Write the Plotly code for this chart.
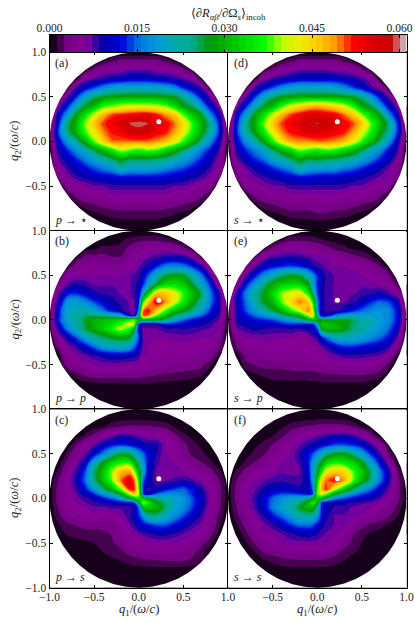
import numpy as np
import plotly.graph_objects as go

# Values in units of 0.001. Each row runs from q2 = 1.0 down to -1.0
# and lists the q1 grid points (step 0.1) centred on q1 = 0; points past the list are zero.
q_axis = [round(-1 + 0.1 * i, 1) for i in range(21)]
q_fine = sorted(q_axis + [-0.05, 0.05])
tick_q = [-1.0, -0.5, 0.0, 0.5, 1.0]
cbar_ticks = [0.0, 0.015, 0.03, 0.045, 0.06]
panel_tags = ["(a)", "(b)", "(c)", "(d)", "(e)", "(f)"]
panel_modes = ["<i>p</i> → ⋆", "<i>p</i> → <i>p</i>", "<i>p</i> → <i>s</i>",
               "<i>s</i> → ⋆", "<i>s</i> → <i>p</i>", "<i>s</i> → <i>s</i>"]
dot_q1 = [0.225]
dot_q2 = [0.22]

panel_a = [
 [0],
 [1,2,3,3,3,3,3,2,1],
 [1,3,5,6,6,7,7,7,6,6,5,3,1],
 [1,6,7.5,8.5,9.5,10,11,11,11,10,9.5,8.5,7.5,6,1],
 [1,8,11,14,17,19,20,20,20,20,20,19,17,13,10,8,1],
 [7,13,20,25,27,28,28.5,29,29,29,29,28,27,24,18,12,7],
 [6,12,20,27,30,36,38,40,41,41,41,40,38,33,28,25,18,11,6],
 [0,10,18,28,34,41,47,51,52,53,54,54,52,49,46,38,32,28,17,10,0],
 [0,12,25,30,39,46,51,53,57,59,60,59,55,53,50,44,37,30,24,12,0],
 [1,14,24,30,37,43,49,52,53,56,57,56,53,52,48,42,36,29,22,13,1],
 [1,11,18,23,30,38,45,50,50,50,50,50,49,47,43,37,31,24,17,10,1],
 [0,9,13,17,21,26,30,35,40,38,36,38,37,33,29,25,20,16,12,8,0],
 [7,10,13,16,19,22,25,28,26,26,26,25,24,22,19,16,13,10,6],
 [5,8,10,12,14,16,18,22,19,19,19,18,17,15,14,12,10,8,5],
 [3,6,8,9,10,11,11,12,12,12,12,12,11,11,10,9,8,6,3],
 [4,5,6,7,7,8,8,8,8,8,8,8,7,7,6,5,4],
 [1,3,4,5,5,6,6,6,6,6,6,6,5,5,4,3,1],
 [1,2,2.5,3,3,3.5,3.5,3.5,3.5,3.5,3,3,2.5,2,1],
 [.5,1,1.5,2,2,2,2,2,2,2,1.5,1,.5],
 [.3,.5,.8,.9,.9,.9,.8,.5,.3],
 [0],
]
panel_b = [
 [0],
 [.5,.5,1,1.5,2,2,2,1.5,1],
 [.5,1,1.5,1.5,1.5,3,4,5,5,5,4,3,1],
 [1,3,3,3,2.5,2.5,4,6,7,8,9,9.5,9,6.5,2],
 [1,4,5,5,5,4,4,5,7,9,13,16,17,16,13,9,3],
 [5,6,6,6,6,6,6,7,8,14,21,26,28,27,22,16,8],
 [3,7,8.5,8,7,7,7,7,7,9,18,27,33,34,32,27,20,13,3],
 [0,7,12,13,11,9,8,8,7,7,10,30,46,46,42,37,31,26,16,9,0],
 [1,9,18,19,17,14,11,9,8,7,12,46,54,49,42,35,29,23,16,9,1],
 [1,12,20,21,22,20,16,12,9,7,16,53,46,37,31,28,24,19,13,9,1],
 [1,13,19,23,27,30,31,32,33,36,30,28,27,25,19,15,12,10,9,7,1],
 [1,9,16,21,26,29,32,36,40,36,10,7,7,8,8,8.5,8,7.5,7,6,0],
 [5,9,14,19,23,25,27,28,27,14,6,6,6,6.5,6.5,6.5,6,6,4],
 [3,6,8,11,15,19,20,21,19,11,6,5.5,5.5,5.5,5.5,5.5,5.5,5,3],
 [.5,5,6,7,8,9,10,10,9.5,8,6,5,5,5,5,5,4.5,4,1],
 [3.5,4.5,5.5,6,6.5,6.5,6.5,6,6,5,4.5,4,4,4,3.5,3,1.5],
 [.5,2,3,3.5,3.5,3.5,3.5,3.5,3.5,3,2.7,2.5,2.2,2,1.8,1.5,.5],
 [.5,1,1.2,1.3,1.3,1.3,1.3,1.3,1.3,1.2,1.1,1,.9,.8,.5],
 [.3,.5,.5,.5,.6,.6,.6,.6,.6,.5,.5,.4,.3],
 [.2,.2,.3,.3,.3,.3,.3,.2,.2],
 [0],
]
panel_c = [
 [0],
 [.2,.4,.6,.7,.7,.7,.6,.4,.2],
 [.3,.7,1.2,2,2.5,2.7,2.7,2.7,2.4,2,1.2,.6,.2],
 [.3,1.5,3,5,6.5,8.5,8,7,6,5.5,5,3,1.5,1,.3],
 [.3,2.5,5,7,10,12,13,12,10.5,9,9,6,5,3,1.5,1,.3],
 [1.5,4,7,11,16,22,27,25,18,12,8.5,6,5.5,3.5,2,1.5,.7],
 [.3,3,6,10,20,28,33,36,36,24,12,7.5,6.5,6,5,3.5,2.5,1.5,.3],
 [0,1.5,4,8,14,25,31,40,47,48,30,11,7,7,6.5,6,5.5,4.5,3,1.5,0],
 [.3,2.5,5,9,15,24,31,38,50,55,35,10,7,7,7.5,8.5,7.5,6,4.5,2.5,.3],
 [.3,3,5,8,12,18,24,30,38,52,38,8,9,12,14,15,12,9,5.5,3,.4],
 [.3,3,5,6.5,8,9,12,15,20,27,35,28,24,22,20,18,14,10,6,3,.3],
 [.1,2.5,4.5,5.5,6,7,7,7.5,7.5,8,15,32,30,25,20,17,13.5,9.5,5.5,3,0],
 [2,3.5,4.5,5,5.5,5,5,6,8,13,22,24,20,17,14,11,8,5,2],
 [1,2,2.5,3,3,3,3,5,7,10,12,14,14,12,10,8,6.5,4,1.5],
 [.3,1.3,1.5,1.7,1.7,2,2.5,4.5,5.5,7,8,8.8,9,8,7,6,5,3,.8],
 [.6,.9,1,1.2,1.5,2.2,3,4.5,5,5.5,6,6,6,5.5,4.5,3,1.5],
 [.2,.5,.7,.9,1.2,1.5,2,3,3.5,4,4,4,4,3.5,3,1.7,.5],
 [.3,.5,.6,.8,1,1.2,1.5,1.7,2,2.2,2.4,2.4,2.4,2,1.6],
 [.2,.3,.4,.5,.6,.7,.7,.7,.7,.7,.6,.5,.4],
 [.2,.2,.2,.2,.2,.2,.2,.2,.2],
 [0],
]
panel_d = [
 [0],
 [1,2,3,3,3,3,3,2,1],
 [1,3,5,6,7,7,7,7,6,6,5,3,1],
 [1,6,8,9,10,11,11,11,11,11,10,9,8,6,1],
 [1,8,11,14,17,19,20,20,20,20,19,17,14,11,8,6,1],
 [7,13,20,25,27,28,29,29,29,29,29,28,27,24,18,12,7],
 [6,12,20,27,30,36,41,44,46,47,46,44,41,36,29,26,18,11,6],
 [0,10,19,28,34,41,47,51,53,55,55,54,53,50,46,39,33,28,17,10,0],
 [0,12,24,29,38,46,51,53,55,58,59,58,56,53,51,46,38,31,25,13,0],
 [1,13,22,28,35,42,49,52,53,55,55,54,53,52,48,42,36,29,23,13,1],
 [1,11,17,22,28,36,43,48,49,49,50,50,49,47,43,37,31,25,18,10,1],
 [0,9,13,16,20,25,29,33,38,37,35,37,36,33,30,26,21,17,12,8,0],
 [7,10,13,15,19,22,25,28,26,27,26,25,24,22,19,16,13,10,6],
 [4,7,9,11,13,15,17,22,19,19,18,18,16,15,13,11,9,7,4],
 [3,6,7,8,9,10,11,12,12,11,11,11,10,10,9,8,7,6,3],
 [4,5,6,7,7,8,8,8,8,8,8,8,7,7,6,5,4],
 [1,3,4,5,5,5.5,6,6,6,6,6,5.5,5,5,4,3,1],
 [1,2,2.5,3,3.5,3.5,3.5,4,4,3.5,3.5,3,2.5,2,1],
 [.5,1,1.5,2,2,2,2.5,2.5,2,2,1.5,1,.5],
 [.3,.5,.8,.9,.9,.9,.8,.5,.3],
 [0],
]
panel_e = [
 [0],
 [1,2,2,2,1.5,1,.7,.5,.3],
 [1,3,5,5,5,4.5,4,3,2,1.5,1,.7,.3],
 [2,6,8,8.5,9,8.5,7.5,6.5,6,5,4,3,2.5,1.5,.3],
 [2,7,10,12,13,14,13,11,8,7,6,6,5.5,5,4,2.5,.5],
 [7,12,17,21,25,27,26,21,13,8,7,6.5,6.5,6,5.5,4.5,3],
 [3,12,18,24,29,32,33,33,28,13,8,7,7,7,7,6.5,6,5,1.5],
 [0,9,16,23,27,33,39,42,43,35,14,8,7,7,7,7.5,8,9,7.5,5,0],
 [1,10,15,22,27,30,38,44,50,46,17,8,7,7,8,10,13,15,14,10,1],
 [1,9,14,18,22,26,30,36,41,50,18,8,8,10,13,15,17,18,17,12,2],
 [1,9,11,12,13,14,16,19,22,27,30,27,28,28,26,23,21,19,17,12,2],
 [0,7,8,9,8.5,8,8,8.5,8,9,14,30,30,28,25,22,20,18,15,10,0],
 [4,6,6,6.5,6.5,6,6,5,6,8,15,20,21,20,19,17,15,12,7],
 [2.5,4.5,5,5.5,5.5,5.5,5.5,5,5.5,6,8,11,13,13,12,11,10,8.5,4],
 [.5,3,3.5,4,4.5,4.5,4.5,4.5,5,5.5,6,7,8,8,8,7.5,7,5,1],
 [2,2.5,3,3,3,3.2,3.5,3.5,4,4.5,5,5,5,5,5,4,2],
 [.5,1.2,1.5,1.7,1.8,2,2,2,2.2,2.5,2.5,2.7,2.7,2.7,2.5,2,.7],
 [.4,.7,1,1,1,1,1,1,1.2,1.2,1.2,1.2,1.2,.9,.4],
 [.3,.4,.5,.5,.5,.5,.5,.5,.5,.5,.5,.4,.3],
 [.2,.2,.2,.2,.2,.2,.2,.2,.2],
 [0],
]
panel_f = [
 [0],
 [.2,.4,.6,.8,.9,.9,.9,.7,.3],
 [.2,.5,1,1.8,2.3,2.7,3,3.2,3.2,3,2.5,1.2,.3],
 [.3,.8,1.2,2,3.5,5,6,7,8,9,9,8,6,3.5,.5],
 [.2,1,1.5,2.5,4,5.5,7,8.5,10,12,14,14,13,11,8,5,.7],
 [.7,1.5,2.2,3.5,5,6,8.5,12,17,24,27,28,24,19,13,8,2.5],
 [.2,1.5,2.5,3.5,5,6,6.5,7.5,12,24,33,36,35,33,28,20,12,6,.5],
 [0,1.5,3,4.5,5.5,6,7,7,7,11,27,43,46,45,38,32,25,16,9,2.5,0],
 [.3,2.5,4.5,6,7,8,8,7.5,7.5,10,32,50,53,48,38,30,24,16,9,3,.3],
 [.3,3,5.5,7,9,10,11,10,9,9,36,52,40,32,25,19,15,10.5,7,3,.3],
 [.3,3,5.5,8,11,15,17,19,21,24,33,25,17,14,12,10.5,9,7.5,5.5,3,.3],
 [0,2.5,5,7.5,11,16,19,22,27,31,24,10,8,8,7,6.5,6,5.5,4,2,0],
 [2,4,6,8.5,12,15,18,22,22,18,9,7,7,6.5,6,5,3.5,2.5,1.2],
 [1,3,5,6.5,8,10,13,15,15,12,8,7,6.5,5,3,2,1.5,1,.5],
 [.2,2,4,5.5,6,7,8,9,9.5,8.5,7,6.5,5,2.5,1.5,1,.8,.5,.2],
 [1,2.5,4,5,6,6.5,6.5,6.5,6.5,6,5,3.5,2,1.2,.9,.6,.3],
 [.4,1.2,2.5,3,3.5,4,4,4,4,3.8,3,2,1.3,1,.7,.4,.2],
 [.5,1,1.5,1.8,2,2.2,2.2,2.2,2,1.6,1.2,.8,.6,.4,.2],
 [.3,.5,.7,.8,.8,.8,.8,.8,.7,.5,.4,.3,.2],
 [.2,.2,.2,.2,.2,.2,.2,.2,.2],
 [0],
]

# Finer readings where the lobes meet at the origin: two extra rows (q2 = +0.05, -0.05) over the
# q1 = -1.0 .. 1.0 points, and two extra columns (q1 = -0.05, +0.05) over all 23 q2 points, top down.
fine_b = dict(
 rp=[1,12,20,22,25,25,24,22,20,9,22,50,38,31,25,22,18,15,11,8,1],
 rm=[1,11,18,22,26,30,32,34,38,42,12,8,8,12,12,11,10,9,8,6,.5],
 cm=[0,1.7,3.5,5,6,7.5,8,8,7,7,7,38,40,28,20,15,9,6,3.5,1.3,.6,.3,0],
 cp=[0,2,4.5,6.5,8,11,13,20,36,50,51,28,8,7,7,6.5,6,5.5,3.2,1.3,.6,.3,0],
)
fine_c = dict(
 rp=[.3,3,5,7,10,13,18,22,28,40,40,9,15,17,17,16,13,9.5,6,3,.3],
 rm=[.2,3,5,6,7,8,9,10,10,11,25,36,28,24,20,17.5,14,10,6,3,.2],
 cm=[0,.7,2.7,7.5,11,22,30,40,50,52,46,32,13,9,10,8,6,4.7,3.2,1.8,.7,.2,0],
 cp=[0,.7,2.7,6.5,9.5,15,18,20,15,12,12,32,40,30,17,11,7.5,5.2,3.7,2.1,.7,.2,0],
)
fine_e = dict(
 rp=[1,9,12,15,17,20,23,27,30,40,22,10,16,19,19,19,19,18.5,17,12,2],
 rm=[.5,8,9.5,10,10.5,11,12,13,12,12,20,32,30,28,25,22.5,20.5,18.5,16,11,1],
 cm=[0,1.7,4.3,7,9,17,20,25,36,42,46,30,12,10,7,5.7,5.2,3.7,2.1,1.1,.5,.2,0],
 cp=[0,1.2,3.5,6.2,7.5,10,9.5,9,9,9,9,28,32,28,12,7,5.7,4.2,2.3,1.2,.5,.2,0],
)
fine_f = dict(
 rp=[.3,3,5.5,7.5,10,12.5,14,14,13,11,38,38,28,22,17,14,12,9,6,3,.3],
 rm=[.2,2.8,5.3,7.8,11,15.5,18,21,24,30,30,10,9,9,8,7.5,7,6,4.5,2.5,.2],
 cm=[0,.8,2.8,6.5,9,14,18,19,18,15,13,28,36,30,22,14,9,6.5,4,2.2,.8,.2,0],
 cp=[0,.9,3.1,7.5,11,20,28,35,45,47,42,30,12,12,12,9,7.5,6,4,2.1,.8,.2,0],
)

NIPY = [(0,0,0,0),(.05,119,0,136),(.10,136,0,153),(.15,0,0,170),(.20,0,0,221),(.25,0,119,221),
        (.30,0,153,221),(.35,0,170,170),(.40,0,170,136),(.45,0,153,0),(.50,0,187,0),(.55,0,221,0),
        (.60,0,255,0),(.65,187,255,0),(.70,238,238,0),(.75,255,204,0),(.80,255,153,0),(.85,255,0,0),
        (.90,221,0,0),(.95,204,0,0),(1,204,204,204)]
cscale = [[s, f"rgb({r},{g},{b})"] for s, r, g, b in NIPY]
ZMAX = 0.0612
LEVELS = dict(start=0, end=ZMAX, size=0.0012, coloring="fill")

def grid(rows, fine=None):
    out = []
    for row in rows:
        pad = (21 - len(row)) // 2
        out.append([0] * pad + list(row) + [0] * pad)
    z = np.array(out, dtype=float)          # top row first
    if fine is None:
        return q_axis, z[::-1] / 1000.0
    z = np.insert(z, 11, fine["rm"], axis=0)  # below q2 = 0
    z = np.insert(z, 10, fine["rp"], axis=0)  # above q2 = 0
    z = np.insert(z, 11, fine["cp"], axis=1)  # right of q1 = 0
    z = np.insert(z, 10, fine["cm"], axis=1)  # left of q1 = 0
    return q_fine, z[::-1] / 1000.0

W, H = 415, 623
LEFT, MID, RIGHT = 49.5, 228.0, 406.5
ROWS = [52.2, 230.7, 409.2, 587.7]
CB_TOP, CB_BOT = 34.5, 52.2
FONT = "Liberation Serif, DejaVu Serif, serif"
INK = "#222222"
QLABEL = "<i>q</i><sub>{}</sub>/(<i>ω</i>/<i>c</i>)"

def label(v):
    return f"{v:.1f}".replace("-", "−")

# white cover with a round hole, so that the field shows only inside the unit circle
t = np.linspace(0, 2 * np.pi, 361)
mask_x = [-1, -1, 1, 1, -1, -1] + list(np.cos(np.pi + t)) + [-1]
mask_y = [0, 1, 1, -1, -1, 0] + list(np.sin(np.pi + t)) + [0]

fig = go.Figure()
layout = {}
panels = [panel_a, panel_b, panel_c, panel_d, panel_e, panel_f]
fines = [None, fine_b, fine_c, None, fine_e, fine_f]
annotations = []
for i, rows in enumerate(panels):
    n = i + 1
    col, row = i // 3, i % 3
    xn = "x" if n == 1 else f"x{n}"
    yn = "y" if n == 1 else f"y{n}"
    axis_vals, z = grid(rows, fines[i])
    fig.add_trace(go.Contour(x=axis_vals, y=axis_vals, z=z, xaxis=xn, yaxis=yn,
                             colorscale=cscale, zmin=0, zmax=ZMAX, showscale=False, contours=LEVELS,
                             line=dict(width=0, smoothing=1.0), hoverinfo="skip"))
    fig.add_trace(go.Scatter(x=mask_x, y=mask_y, xaxis=xn, yaxis=yn, mode="lines", fill="toself",
                             fillcolor="white", line=dict(width=0), hoverinfo="skip", showlegend=False))
    fig.add_trace(go.Scatter(x=dot_q1, y=dot_q2, xaxis=xn, yaxis=yn, mode="markers",
                             marker=dict(color="white", size=5), hoverinfo="skip", showlegend=False))
    x0, x1 = (LEFT, MID) if col == 0 else (MID, RIGHT)
    y0, y1 = ROWS[row], ROWS[row + 1]
    common = dict(range=[-1, 1], showgrid=False, zeroline=False, showline=True, linecolor="black",
                  linewidth=1, mirror="ticks", ticks="inside", ticklen=3, tickwidth=0.8,
                  tickcolor="black", automargin=False,
                  tickfont=dict(family=FONT, size=11.5, color=INK))
    xticks = tick_q if col == 0 else tick_q[1:]
    yticks = tick_q if row == 2 else tick_q[1:]
    xa = dict(common, domain=[x0 / W, x1 / W], anchor=yn, tickvals=xticks, ticklabelstandoff=-2,
              ticktext=[label(v) for v in xticks], showticklabels=(row == 2))
    ya = dict(common, domain=[1 - y1 / H, 1 - y0 / H], anchor=xn, tickvals=yticks,
              ticktext=[label(v) for v in yticks], showticklabels=(col == 0))
    layout[f"xaxis{n}"] = xa
    layout[f"yaxis{n}"] = ya
    annotations.append(dict(text=panel_tags[i], xref=f"{xn} domain", yref=f"{yn} domain", x=0.02, y=0.94,
                            xanchor="left", yanchor="middle", showarrow=False,
                            font=dict(family=FONT, size=12, color=INK)))
    annotations.append(dict(text=panel_modes[i], xref=f"{xn} domain", yref=f"{yn} domain", x=0.02, y=0.06,
                            xanchor="left", yanchor="middle", showarrow=False,
                            font=dict(family=FONT, size=12, color=INK)))
    if row == 2:
        annotations.append(dict(text=QLABEL.format(1), xref="paper", yref="paper", x=(x0 + x1) / 2 / W,
                                y=1 - 610 / H, xanchor="center", yanchor="middle", showarrow=False,
                                font=dict(family=FONT, size=12.5, color=INK)))
    if col == 0:
        annotations.append(dict(text=QLABEL.format(2), xref="paper", yref="paper", x=15.5 / W,
                                y=1 - (y0 + y1) / 2 / H, xanchor="center", yanchor="middle", textangle=-90,
                                showarrow=False, font=dict(family=FONT, size=12.5, color=INK)))

annotations.append(dict(text="⟨∂<i>R</i><sub><i>αβ</i></sub>/∂Ω<sub><i>s</i></sub>⟩<sub>incoh</sub>",
                        xref="paper", yref="paper", x=228.5 / W, y=1 - 14.5 / H, xanchor="center",
                        yanchor="middle", showarrow=False, font=dict(family=FONT, size=12.5, color=INK)))

# colour bar drawn as its own heat strip with the ticks on top
levels = [round(0.0006 + 0.0012 * k, 4) for k in range(51)]
fig.add_trace(go.Heatmap(x=levels, y=[0], z=[levels], xaxis="x7", yaxis="y7", colorscale=cscale,
                         zmin=0, zmax=ZMAX, showscale=False, hoverinfo="skip"))
layout["xaxis7"] = dict(domain=[LEFT / W, RIGHT / W], anchor="y7", side="top", range=[0, ZMAX],
                        tickvals=cbar_ticks, tickformat=".3f", ticks="inside", ticklen=3, tickwidth=0.8,
                        tickcolor="black", showline=True, linecolor="black", linewidth=1, mirror="ticks",
                        showgrid=False, zeroline=False, automargin=False, ticklabelstandoff=-3,
                        tickfont=dict(family=FONT, size=11.5, color=INK))
layout["yaxis7"] = dict(domain=[1 - CB_BOT / H, 1 - CB_TOP / H], anchor="x7", showticklabels=False,
                        ticks="", showline=True, linecolor="black", linewidth=1, mirror=True,
                        showgrid=False, zeroline=False, automargin=False)

fig.update_layout(width=W, height=H, margin=dict(l=0, r=0, t=0, b=0), plot_bgcolor="white",
                  paper_bgcolor="white", showlegend=False, annotations=annotations, **layout)
fig.write_html("out.html", config=dict(displayModeBar=False),
               post_script="document.body.style.margin='0';document.body.style.overflow='hidden';")
